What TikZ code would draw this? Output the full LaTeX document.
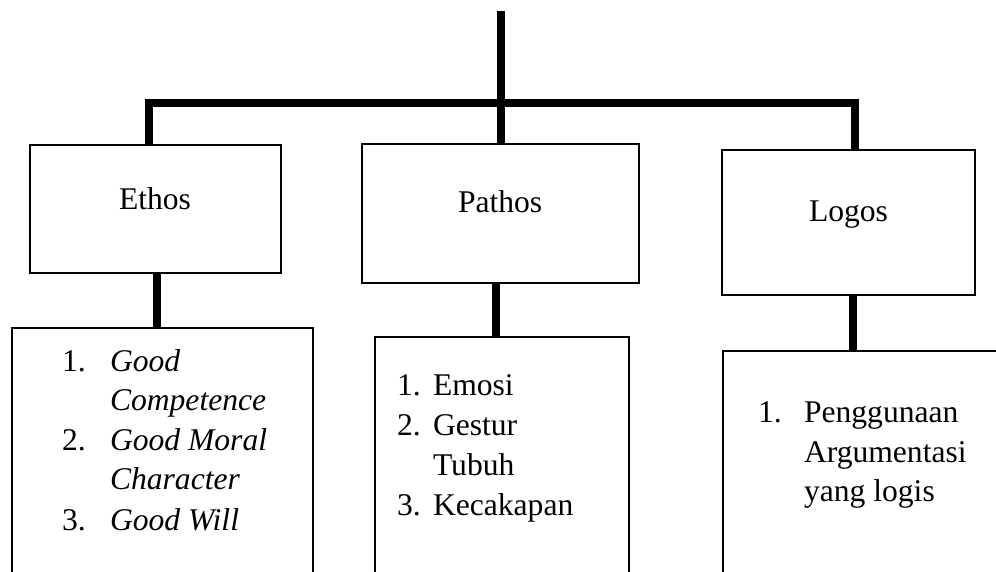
\documentclass[tikz,border=0pt]{standalone}
\usepackage{fontspec}
\setmainfont{Liberation Serif}
\begin{document}
\begin{tikzpicture}[x=1pt,y=-1pt,
  box/.style={draw=black,line width=2pt,fill=none,inner sep=0pt,outer sep=0pt,anchor=north west},
  conn/.style={line width=7.5pt,line join=miter},
  txt/.style={anchor=base west,inner sep=0pt,outer sep=0pt,font=\fontsize{31.6}{40}\selectfont}]
\useasboundingbox (0,0) rectangle (996,572);
\clip (0,0) rectangle (996,572);
% upper boxes
\node[box,minimum width=251pt,minimum height=128pt] (ethos) at (30,145) {};
\node[box,minimum width=277pt,minimum height=139pt] (pathos) at (362,144) {};
\node[box,minimum width=253pt,minimum height=145pt] (logos) at (722,150) {};
% lower boxes (cut by the bottom edge)
\node[box,minimum width=301pt,minimum height=280pt] (ethosl) at (12,328) {};
\node[box,minimum width=254pt,minimum height=270pt] (pathosl) at (375,337) {};
\node[box,minimum width=290pt,minimum height=260pt] (logosl) at (723,351) {};
% titles
\node[txt] (tethos) at (119,210) {Ethos};
\node[txt] (tpathos) at (458,213) {Pathos};
\node[txt] (tlogos) at (809,222) {Logos};
% tree connectors
\coordinate (top) at (501,11);
\coordinate (hl) at (149,103);
\coordinate (hr) at (855,103);
\draw[conn] (hl |- ethos.north) -- (hl) -- (hr) -- (hr |- logos.north);
\draw[conn] (top) -- (top |- pathos.north);
\coordinate (ce) at (157,0);
\coordinate (cp) at (496,0);
\coordinate (cl) at (853,0);
\draw[conn] (ce |- ethos.south) -- (ce |- ethosl.north);
\draw[conn] (cp |- pathos.south) -- (cp |- pathosl.north);
\draw[conn] (cl |- logos.south) -- (cl |- logosl.north);
% Ethos list
\node[txt] (en1) at (62,371) {1.};
\node[txt] (en2) at (62,450) {2.};
\node[txt] (en3) at (62,530) {3.};
\node[txt] (ea) at (110,371) {\textit{Good}};
\node[txt] (eb) at (110,410) {\textit{Competence}};
\node[txt] (ec) at (110,450) {\textit{Good Moral}};
\node[txt] (ed) at (110,489) {\textit{Character}};
\node[txt] (ee) at (110,530) {\textit{Good Will}};
% Pathos list
\node[txt] (pn1) at (397,395) {1.};
\node[txt] (pn2) at (397,435) {2.};
\node[txt] (pn3) at (397,515) {3.};
\node[txt] (pa) at (433,395) {Emosi};
\node[txt] (pb) at (433,435) {Gestur};
\node[txt] (pc) at (433,475) {Tubuh};
\node[txt] (pd) at (433,515) {Kecakapan};
% Logos list
\node[txt] (ln1) at (758,422) {1.};
\node[txt] (la) at (804,422) {Penggunaan};
\node[txt] (lb) at (804,462) {Argumentasi};
\node[txt] (lc) at (804,501) {yang logis};
\end{tikzpicture}
\end{document}
